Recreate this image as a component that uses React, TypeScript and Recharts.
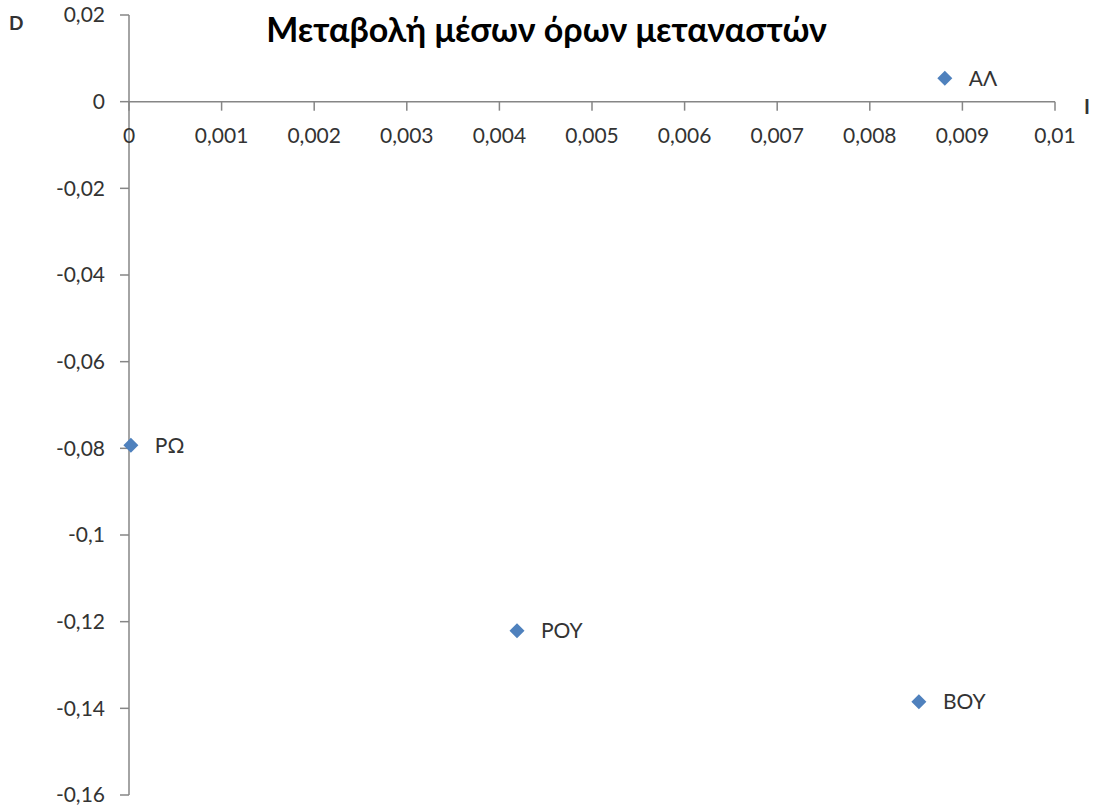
import { ScatterChart, Scatter, XAxis, YAxis } from 'recharts';

const pointNames = ['ΑΛ', 'ΡΩ', 'ΡΟΥ', 'ΒΟΥ'];
const xValues = [0.00881, 0.00002, 0.00419, 0.00853];
const yValues = [0.0054, -0.0793, -0.1221, -0.1385];

const xTicks = [0, 0.001, 0.002, 0.003, 0.004, 0.005, 0.006, 0.007, 0.008, 0.009, 0.01];
const yTicks = [0.02, 0, -0.02, -0.04, -0.06, -0.08, -0.1, -0.12, -0.14, -0.16];

const points = pointNames.map((name, i) => ({ name, x: xValues[i], y: yValues[i] }));
const xTickRow = xTicks.map((t) => ({ x: t, y: 0 }));

const FONT = 'Lato, "Open Sans", sans-serif';
const AXIS = '#868686';
const TEXT = '#333333';
const LABEL_SIZE = 21;

const fmt = (v: number) => String(v).replace('.', ',');

function Diamond(props: any) {
  const { cx, cy, payload } = props;
  const r = 7.5;
  return (
    <g>
      <polygon
        points={`${cx},${cy - r} ${cx + r},${cy} ${cx},${cy + r} ${cx - r},${cy}`}
        fill="#4F81BD"
      />
      <text x={cx + 24} y={cy} dy="0.355em" fontSize={LABEL_SIZE} fill={TEXT} fontFamily={FONT}>
        {payload.name}
      </text>
    </g>
  );
}

function XTickMark(props: any) {
  const { cx, cy, payload } = props;
  return (
    <g>
      <line x1={cx} y1={cy} x2={cx} y2={cy + 9} stroke={AXIS} strokeWidth={1.5} />
      <text x={cx} y={cy + 34} dy="0.355em" textAnchor="middle" fontSize={LABEL_SIZE} fill={TEXT} fontFamily={FONT}>
        {fmt(payload.x)}
      </text>
    </g>
  );
}

export default function App() {
  return (
    <div style={{ position: 'absolute', left: 0, top: 0, width: 1093, height: 809, background: '#fff', fontFamily: FONT }}>
      <ScatterChart width={1093} height={809} margin={{ top: 15, right: 38, bottom: 14, left: 0 }}>
        <XAxis type="number" dataKey="x" domain={[0, 0.01]} hide />
        <YAxis
          type="number"
          dataKey="y"
          domain={[-0.16, 0.02]}
          ticks={yTicks}
          interval={0}
          width={129}
          tickSize={9}
          tickMargin={15}
          tickFormatter={fmt}
          axisLine={{ stroke: AXIS, strokeWidth: 1.5 }}
          tickLine={{ stroke: AXIS, strokeWidth: 1.5 }}
          tick={{ fontSize: LABEL_SIZE, fill: TEXT, fontFamily: FONT }}
        />
        <Scatter
          data={xTickRow}
          shape={XTickMark}
          isAnimationActive={false}
          line={{ stroke: AXIS, strokeWidth: 1.5 }}
        />
        <Scatter data={points} shape={Diamond} isAnimationActive={false} />
      </ScatterChart>
      <div style={{ position: 'absolute', left: 0, top: 8, width: 1093, textAlign: 'center', fontWeight: 700, fontSize: 34, color: '#000' }}>
        Μεταβολή μέσων όρων μεταναστών
      </div>
      <div style={{ position: 'absolute', left: 9, top: 11, fontWeight: 700, fontSize: 19, color: TEXT }}>D</div>
      <div style={{ position: 'absolute', left: 1084, top: 94, fontWeight: 700, fontSize: 20, color: TEXT }}>I</div>
    </div>
  );
}
